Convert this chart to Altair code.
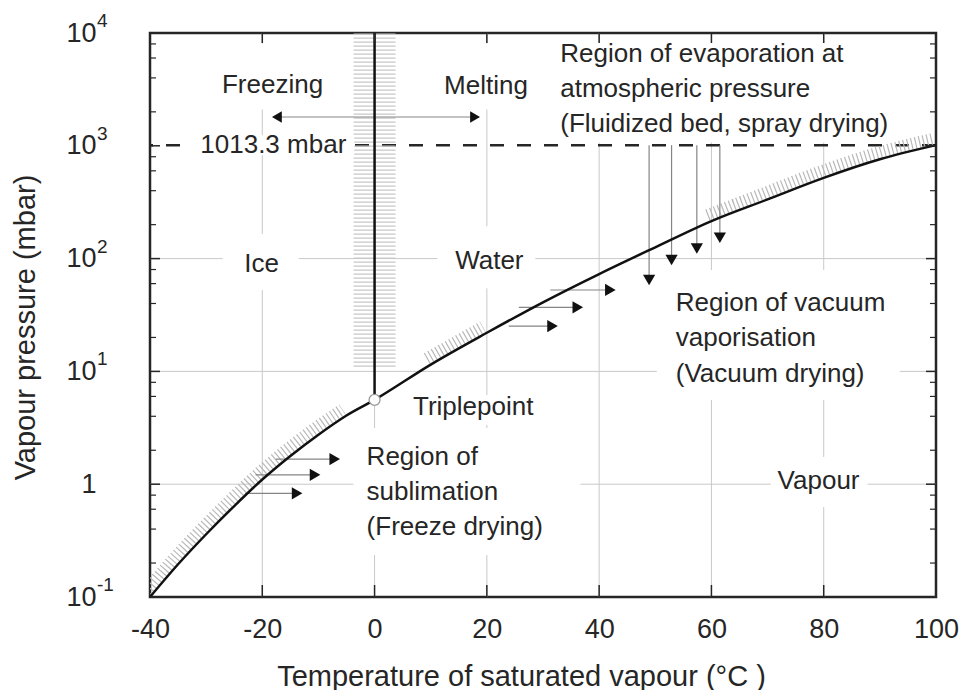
import altair as alt
import pandas as pd

FONT = "Liberation Sans"
INK = "#262626"
GRID = "#c9c9c9"
ARROW = "#858585"
W, H = 786, 564

# ---------------- data ----------------
curve_T = [-40, -35, -30, -25, -20, -15, -10, -5, 0, 10, 20, 30, 40, 50, 60, 70, 80, 90, 100]
curve_P = [0.10, 0.195, 0.36, 0.64, 1.10, 1.78, 2.75, 4.07, 5.6, 11.5, 22, 41, 73, 126, 215, 335, 520, 760, 1013.3]

hatch_ranges = [(-40, -3), (3, 27), (58, 100)]

triple_T = [0]
triple_P = [5.6]
melt_top = 10000
melt_hatch_from = 11
atm_P = 1013.3

grid_T = [-20, 0, 20, 40, 60, 80]
grid_P = [1, 10, 100]
major_T = [-20, 0, 20, 40, 60, 80]
major_P = [0.1, 1, 10, 100, 1000, 10000]
minor_P = [m * 10.0 ** e for e in range(-1, 4) for m in (2, 4, 6, 8)]
x_tick_values = [-40, -20, 0, 20, 40, 60, 80, 100]
exp_P = [0.1, 10, 100, 1000, 10000]
exp_text = ["-1", "1", "2", "3", "4"]

# horizontal arrows (sublimation + vacuum vaporisation)
h_from = [-17.6, -21.2, -23.0, 23.9, 25.7, 31.3]
h_to = [-7.1, -10.6, -13.8, 31.7, 36.2, 42.0]
h_P = [1.67, 1.21, 0.83, 25.2, 37.0, 52.7]
# vertical arrows from atmospheric line
v_T = [48.9, 52.9, 57.4, 61.5]
v_P = [64.6, 97.3, 123, 153]
# freezing / melting arrow
fm_left_T, fm_right_T, fm_P = -17.4, 17.9, 1800

# labels
lab_text = ["Freezing", "Melting", "1013.3 mbar", "Ice", "Water", "Vapour",
            "Region of evaporation at", "atmospheric pressure", "(Fluidized bed, spray drying)",
            "Triplepoint", "Region of", "sublimation", "(Freeze drying)",
            "Region of vacuum", "vaporisation", "(Vacuum drying)"]
lab_T = [-18.17, 19.85, -18.04, -20.12, 20.44, 79.08,
         33.07, 33.07, 33.07,
         6.84, -1.42, -1.42, -1.42,
         53.64, 53.64, 53.64]
lab_P = [3459, 3390, 1013.3, 89.6, 95.3, 1.067,
         6516, 3190, 1560,
         4.83, 1.74, 0.853, 0.418,
         40.4, 19.8, 9.48]
lab_align = ["center"] * 6 + ["left"] * 10

# white backgrounds behind labels (centre in data units)
box_T = [-18.13, 19.73, -18.04, 62.4, -20.27, 19.91, 17.07, 16.44, 71.91, 79.2]
box_P = [4115, 4115, 1013.3, 2970, 93.4, 103, 4.55, 0.861, 21.0, 1.046]
# box sizes in pixels (style)
box_w = [112, 100, 162, 340, 76, 98, 128, 227, 243, 97]
box_h = [66, 66, 20, 100, 56, 62, 30, 127, 130, 50]

# ---------------- scales / axes ----------------
x_scale = alt.Scale(domain=[-40, 100], nice=False, zero=False)
y_scale = alt.Scale(type="log", domain=[0.1, 10000], nice=False)

x_axis = alt.Axis(values=x_tick_values, labelExpr="'' + datum.value",
                  grid=False, ticks=False, tickSize=0, domain=False,
                  labelPadding=19, labelFontSize=27, labelFont=FONT, labelColor=INK,
                  labelFlush=False,
                  title="Temperature of saturated vapour (°C )",
                  titleFont=FONT, titleFontSize=29, titleFontWeight="normal", titleColor=INK,
                  titleX=371, titleY=88, titleAlign="center", titleBaseline="alphabetic")
y_axis = alt.Axis(values=major_P, labelExpr="datum.value == 1 ? '1' : '10'",
                  grid=False, ticks=False, tickSize=0, domain=False,
                  labelPadding=54, labelFontSize=27, labelFont=FONT, labelColor=INK,
                  title="Vapour pressure (mbar)",
                  titleFont=FONT, titleFontSize=29, titleFontWeight="normal", titleColor=INK,
                  titleX=-125, titleY=294, titleAngle=270, titleAlign="center", titleBaseline="middle")


def xe(f="T"):
    return alt.X(f"{f}:Q", scale=x_scale, axis=x_axis)


def ye(f="P"):
    return alt.Y(f"{f}:Q", scale=y_scale, axis=y_axis)


curve_df = pd.DataFrame({"T": curve_T, "P": curve_P})

layers = []

# curve (carries the axes)
curve_layer = alt.Chart(curve_df).mark_line(color="#111111", strokeWidth=2.5, interpolate="monotone").encode(
    x=xe(), y=ye(), order="T:Q")

# gridlines
layers.append(alt.Chart(pd.DataFrame({"T": grid_T})).mark_rule(color=GRID, strokeWidth=1).encode(x=xe()))
layers.append(alt.Chart(pd.DataFrame({"P": grid_P})).mark_rule(color=GRID, strokeWidth=1).encode(y=ye()))

# atmospheric pressure dashed line
layers.append(alt.Chart(pd.DataFrame({"P": [atm_P]})).mark_rule(
    color=INK, strokeWidth=2.5, strokeDash=[14, 13]).encode(y=ye()))

# hatching along melting line
layers.append(alt.Chart(pd.DataFrame({"T": triple_T, "P": [melt_hatch_from], "P2": [melt_top]})).mark_rule(
    color="#c8c8c8", strokeWidth=42, strokeDash=[1.2, 2.8]).encode(x=xe(), y=ye(), y2="P2:Q"))

# hatching along vapour-pressure curve
for a, b in hatch_ranges:
    layers.append(alt.Chart(curve_df).transform_filter(
        (alt.datum.T >= a) & (alt.datum.T <= b)).mark_line(
        color="#b8b8b8", strokeWidth=12, strokeDash=[1.2, 2.8], strokeCap="butt",
        interpolate="monotone", xOffset=-4, yOffset=-6, clip=True).encode(x=xe(), y=ye(), order="T:Q"))

# white label backgrounds
for t, p, w, h in zip(box_T, box_P, box_w, box_h):
    layers.append(alt.Chart(pd.DataFrame({"T": [t], "P": [p]})).mark_rect(
        color="white", xOffset=-w / 2, x2Offset=w / 2, yOffset=-h / 2, y2Offset=h / 2).encode(
        x=xe(), x2="T:Q", y=ye(), y2="P:Q"))

# arrow shafts
h_df = pd.DataFrame({"T0": h_from, "T": h_to, "P": h_P})
layers.append(alt.Chart(h_df).mark_rule(color=ARROW, strokeWidth=1.2).encode(x=xe("T0"), x2="T:Q", y=ye()))
v_df = pd.DataFrame({"T": v_T, "P": v_P, "Ptop": [atm_P] * len(v_T)})
layers.append(alt.Chart(v_df).mark_rule(color=ARROW, strokeWidth=1.2).encode(x=xe(), y=ye(), y2="Ptop:Q"))
fm_df = pd.DataFrame({"T0": [fm_left_T], "T": [fm_right_T], "P": [fm_P]})
layers.append(alt.Chart(fm_df).mark_rule(color=ARROW, strokeWidth=1.2).encode(x=xe("T0"), x2="T:Q", y=ye()))

# curve and melting line
layers.append(curve_layer)
layers.append(alt.Chart(pd.DataFrame({"T": triple_T, "P": triple_P, "P2": [melt_top]})).mark_rule(
    color="#111111", strokeWidth=2.5).encode(x=xe(), y=ye(), y2="P2:Q"))

# triple point
layers.append(alt.Chart(pd.DataFrame({"T": triple_T, "P": triple_P})).mark_circle(
    color="white", stroke="#9a9a9a", strokeWidth=1.3, size=120, opacity=1).encode(x=xe(), y=ye()))

# arrow heads
layers.append(alt.Chart(h_df).mark_point(shape="triangle-right", filled=True, color="#111111",
                                         size=150, opacity=1).encode(x=xe(), y=ye()))
layers.append(alt.Chart(v_df).mark_point(shape="triangle-down", filled=True, color="#111111",
                                         size=150, opacity=1).encode(x=xe(), y=ye()))
layers.append(alt.Chart(pd.DataFrame({"T": [fm_left_T], "P": [fm_P]})).mark_point(
    shape="triangle-left", filled=True, color="#111111", size=130, opacity=1).encode(x=xe(), y=ye()))
layers.append(alt.Chart(pd.DataFrame({"T": [fm_right_T], "P": [fm_P]})).mark_point(
    shape="triangle-right", filled=True, color="#111111", size=130, opacity=1).encode(x=xe(), y=ye()))

# labels
lab_df = pd.DataFrame({"text": lab_text, "T": lab_T, "P": lab_P, "align": lab_align})
for al in ("center", "left"):
    layers.append(alt.Chart(lab_df).transform_filter(alt.datum.align == al).mark_text(
        align=al, baseline="middle", font=FONT, fontSize=26, color=INK).encode(
        x=xe(), y=ye(), text="text:N"))

# inward ticks
maj_df = pd.DataFrame({"P": major_P})
min_df = pd.DataFrame({"P": minor_P})
tx_df = pd.DataFrame({"T": major_T})
layers.append(alt.Chart(maj_df).mark_rule(color=INK, strokeWidth=1.5).encode(y=ye(), x=alt.value(0), x2=alt.value(10)))
layers.append(alt.Chart(maj_df).mark_rule(color=INK, strokeWidth=1.5).encode(y=ye(), x=alt.value(W - 10), x2=alt.value(W)))
layers.append(alt.Chart(min_df).mark_rule(color=INK, strokeWidth=1.2).encode(y=ye(), x=alt.value(0), x2=alt.value(6)))
layers.append(alt.Chart(min_df).mark_rule(color=INK, strokeWidth=1.2).encode(y=ye(), x=alt.value(W - 6), x2=alt.value(W)))
layers.append(alt.Chart(tx_df).mark_rule(color=INK, strokeWidth=1.5).encode(x=xe(), y=alt.value(H - 12), y2=alt.value(H)))
layers.append(alt.Chart(tx_df).mark_rule(color=INK, strokeWidth=1.5).encode(x=xe(), y=alt.value(0), y2=alt.value(10)))

# exponents of y tick labels
layers.append(alt.Chart(pd.DataFrame({"P": exp_P, "e": exp_text})).mark_text(
    align="left", baseline="middle", dx=-53, dy=-12, font=FONT, fontSize=19, color=INK).encode(
    x=alt.value(0), y=ye(), text="e:N"))

chart = alt.layer(*layers).properties(
    width=W, height=H, autosize="none",
    padding={"left": 142, "top": 25, "right": 23, "bottom": 93},
    background="white",
).configure_view(stroke=INK, strokeWidth=2.5)

chart.save("out.html", embed_options={"renderer": "svg", "actions": False})
